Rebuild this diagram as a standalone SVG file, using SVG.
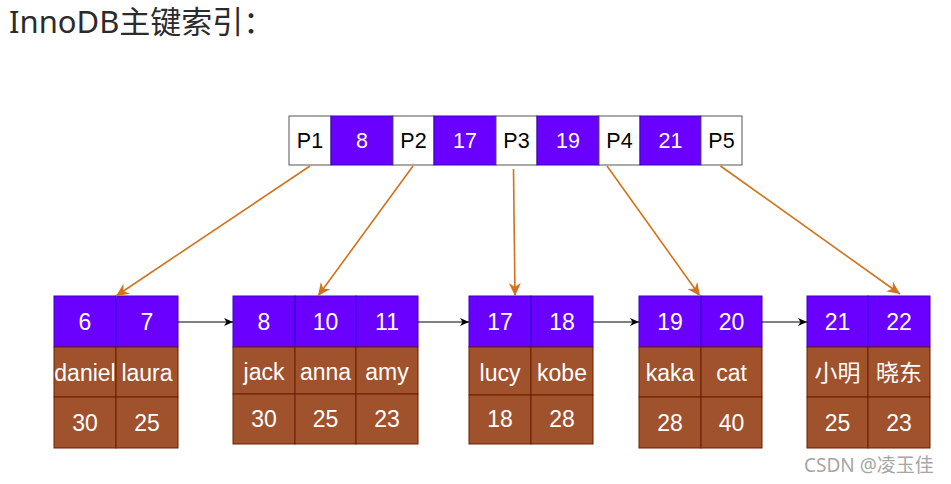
<svg xmlns="http://www.w3.org/2000/svg" width="951" height="484" viewBox="0 0 951 484">
<style>
.title{font-family:"Noto Sans","Noto Sans CJK SC",sans-serif;font-size:31px;fill:#2b2b2b}
.w{fill:#ffffff;stroke:#555555;stroke-width:1}
.p{fill:#6a00ff;stroke:#3700cc;stroke-width:1}
.b{fill:#a0522d;stroke:#6d1f00;stroke-width:1}
.tk{font-family:"Liberation Sans","Noto Sans CJK SC",sans-serif;font-size:21.5px;fill:#000;text-anchor:middle;dominant-baseline:central}
.tw{font-family:"Liberation Sans","Noto Sans CJK SC",sans-serif;font-size:21.5px;fill:#fff;text-anchor:middle;dominant-baseline:central}
.lf{font-family:"Liberation Sans","Noto Sans CJK SC",sans-serif;font-size:23px;fill:#fff;text-anchor:middle;dominant-baseline:central}
.oa{stroke:#d2721a;stroke-width:1.6;fill:none;marker-end:url(#ao)}
.ba{stroke:#000;stroke-width:1;fill:none;marker-end:url(#ab)}
.wm{font-family:"Noto Sans","Noto Sans CJK SC",sans-serif;font-size:19px;fill:#a6a6a6}
</style>
<defs>
<marker id="ao" markerUnits="userSpaceOnUse" markerWidth="14" markerHeight="12" refX="13" refY="6" orient="auto">
<path d="M0,0 L13,6 L0,12 L4,6 Z" fill="#d2721a"/>
</marker>
<marker id="ab" markerUnits="userSpaceOnUse" markerWidth="10" markerHeight="8" refX="9" refY="4" orient="auto">
<path d="M0,0 L9,4 L0,8 L2.5,4 Z" fill="#000"/>
</marker>
</defs>
<text class="title" x="9" y="33">InnoDB主键索引：</text>

<g id="root">
<rect class="w" x="289" y="116" width="42" height="49"/><text class="tk" x="310" y="141">P1</text>
<rect class="p" x="331" y="116" width="62" height="49"/><text class="tw" x="362" y="141">8</text>
<rect class="w" x="393" y="116" width="41" height="49"/><text class="tk" x="413.5" y="141">P2</text>
<rect class="p" x="434" y="116" width="62" height="49"/><text class="tw" x="465" y="141">17</text>
<rect class="w" x="496" y="116" width="41" height="49"/><text class="tk" x="516.5" y="141">P3</text>
<rect class="p" x="537" y="116" width="62" height="49"/><text class="tw" x="568" y="141">19</text>
<rect class="w" x="599" y="116" width="41" height="49"/><text class="tk" x="619.5" y="141">P4</text>
<rect class="p" x="640" y="116" width="61" height="49"/><text class="tw" x="670.5" y="141">21</text>
<rect class="w" x="701" y="116" width="41" height="49"/><text class="tk" x="721.5" y="141">P5</text>
</g>

<g id="leaf1">
<rect class="p" x="54" y="296" width="62" height="51"/><text class="lf" x="85" y="322">6</text>
<rect class="p" x="116" y="296" width="62" height="51"/><text class="lf" x="147" y="322">7</text>
<rect class="b" x="54" y="347" width="62" height="50"/><text class="lf" x="85" y="373">daniel</text>
<rect class="b" x="116" y="347" width="62" height="50"/><text class="lf" x="147" y="373">laura</text>
<rect class="b" x="54" y="397" width="62" height="51"/><text class="lf" x="85" y="423">30</text>
<rect class="b" x="116" y="397" width="62" height="51"/><text class="lf" x="147" y="423">25</text>
</g>

<g id="leaf2">
<rect class="p" x="233" y="296" width="62" height="51"/><text class="lf" x="264" y="322">8</text>
<rect class="p" x="295" y="296" width="61" height="51"/><text class="lf" x="325.5" y="322">10</text>
<rect class="p" x="356" y="296" width="62" height="51"/><text class="lf" x="387" y="322">11</text>
<rect class="b" x="233" y="347" width="62" height="47"/><text class="lf" x="264" y="372">jack</text>
<rect class="b" x="295" y="347" width="61" height="47"/><text class="lf" x="325.5" y="372">anna</text>
<rect class="b" x="356" y="347" width="62" height="47"/><text class="lf" x="387" y="372">amy</text>
<rect class="b" x="233" y="394" width="62" height="50"/><text class="lf" x="264" y="419">30</text>
<rect class="b" x="295" y="394" width="61" height="50"/><text class="lf" x="325.5" y="419">25</text>
<rect class="b" x="356" y="394" width="62" height="50"/><text class="lf" x="387" y="419">23</text>
</g>

<g id="leaf3">
<rect class="p" x="469" y="296" width="62" height="51"/><text class="lf" x="500" y="322">17</text>
<rect class="p" x="531" y="296" width="62" height="51"/><text class="lf" x="562" y="322">18</text>
<rect class="b" x="469" y="347" width="62" height="48"/><text class="lf" x="500" y="373">lucy</text>
<rect class="b" x="531" y="347" width="62" height="48"/><text class="lf" x="562" y="373">kobe</text>
<rect class="b" x="469" y="395" width="62" height="49"/><text class="lf" x="500" y="419">18</text>
<rect class="b" x="531" y="395" width="62" height="49"/><text class="lf" x="562" y="419">28</text>
</g>

<g id="leaf4">
<rect class="p" x="639" y="296" width="62" height="51"/><text class="lf" x="670" y="322">19</text>
<rect class="p" x="701" y="296" width="61" height="51"/><text class="lf" x="731.5" y="322">20</text>
<rect class="b" x="639" y="347" width="62" height="50"/><text class="lf" x="670" y="373">kaka</text>
<rect class="b" x="701" y="347" width="61" height="50"/><text class="lf" x="731.5" y="373">cat</text>
<rect class="b" x="639" y="397" width="62" height="51"/><text class="lf" x="670" y="423">28</text>
<rect class="b" x="701" y="397" width="61" height="51"/><text class="lf" x="731.5" y="423">40</text>
</g>

<g id="leaf5">
<rect class="p" x="807" y="296" width="61" height="51"/><text class="lf" x="837.5" y="322">21</text>
<rect class="p" x="868" y="296" width="62" height="51"/><text class="lf" x="899" y="322">22</text>
<rect class="b" x="807" y="347" width="61" height="50"/><text class="lf" x="837.5" y="373">小明</text>
<rect class="b" x="868" y="347" width="62" height="50"/><text class="lf" x="899" y="373">晓东</text>
<rect class="b" x="807" y="397" width="61" height="51"/><text class="lf" x="837.5" y="423">25</text>
<rect class="b" x="868" y="397" width="62" height="51"/><text class="lf" x="899" y="423">23</text>
</g>

<g id="connectors">
<line class="oa" x1="310" y1="166" x2="116" y2="296"/>
<line class="oa" x1="413" y1="166" x2="318" y2="296"/>
<line class="oa" x1="513.5" y1="169" x2="515" y2="296"/>
<line class="oa" x1="607" y1="166" x2="700" y2="296"/>
<line class="oa" x1="720.5" y1="166" x2="900" y2="294"/>
<line class="ba" x1="178" y1="322" x2="233" y2="322"/>
<line class="ba" x1="418" y1="322" x2="469" y2="322"/>
<line class="ba" x1="593" y1="322" x2="639" y2="322"/>
<line class="ba" x1="762" y1="322" x2="807" y2="322"/>
</g>

<text class="wm" x="804" y="472">CSDN @凌玉佳</text>
</svg>
